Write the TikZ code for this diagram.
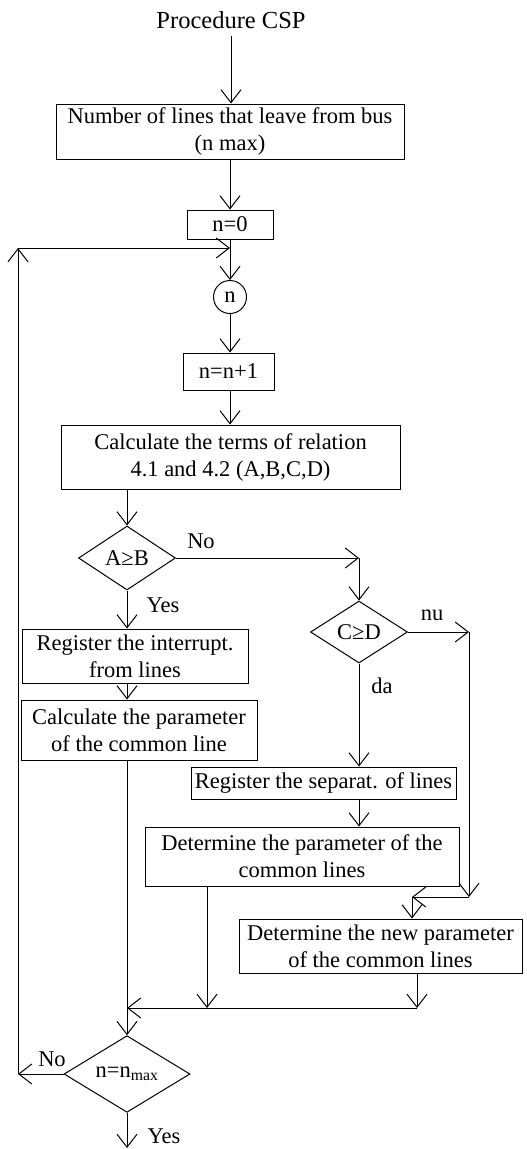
\documentclass[tikz,border=0pt]{standalone}
\usepackage{fontspec}
\setmainfont{Liberation Serif}
\usetikzlibrary{arrows.meta,shapes.geometric}
\begin{document}
\begin{tikzpicture}[x=1pt,y=-1pt,
  every node/.style={font=\fontsize{22.5}{27}\selectfont},
  proc/.style={draw, line width=1pt, inner sep=0pt, align=center},
  dec/.style={draw, diamond, line width=1pt, inner sep=0pt},
  arr/.style={line width=1pt, -{Straight Barb[length=13pt,width=20pt]}},
  lbl/.style={anchor=base, inner sep=0pt}]
\useasboundingbox (0,0) rectangle (527,1149);

% process boxes and decisions
\node[lbl, font=\fontsize{24.5}{29}\selectfont] (title) at (231,28) {Procedure CSP};
\node[proc, minimum width=348pt, minimum height=55pt] (nlines) at (230,131.5) {Number of lines that leave from bus\\(n max)};
\node[proc, minimum width=86pt, minimum height=29pt] (init) at (230,224.5) {n=0};
\node[draw, circle, line width=1pt, inner sep=0pt, minimum size=33pt] (conn) at (230,297) {n};
\node[proc, minimum width=91pt, minimum height=37pt] (incr) at (228.5,371.5) {n=n+1};
\node[proc, minimum width=339pt, minimum height=64pt] (terms) at (230.5,457) {Calculate the terms of relation\\4.1 and 4.2 (A,B,C,D)};
\node[dec, minimum width=97pt, minimum height=64pt] (ab) at (127,558) {A≥B};
\node[proc, minimum width=226pt, minimum height=54pt] (regint) at (135,656) {Register the interrupt.\\from lines};
\node[proc, minimum width=236pt, minimum height=60pt] (calcpar) at (139,730) {Calculate the parameter\\of the common line};
\node[dec, minimum width=97pt, minimum height=62pt] (cd) at (359,632) {C≥D};
\node[proc, minimum width=265pt, minimum height=32pt] (regsep) at (323.5,783) {Register the separat. of lines};
\node[proc, minimum width=314pt, minimum height=59pt] (detpar) at (302,856.5) {Determine the parameter of the\\common lines};
\node[proc, minimum width=283pt, minimum height=54pt] (detnew) at (380.5,946) {Determine the new parameter\\of the common lines};
\node[dec, minimum width=126pt, minimum height=64pt] (last) at (127,1074) {n=n\textsubscript{max}};

% branch labels
\node[lbl] (lno) at (201,548) {No};
\node[lbl] (lyes) at (163,612) {Yes};
\node[lbl] (lnu) at (432,620) {nu};
\node[lbl] (lda) at (382,693) {da};
\node[lbl] (lno2) at (52,1066) {No};
\node[lbl] (lyes2) at (164,1143) {Yes};

% bend points of the connectors
\coordinate (loopB) at (18,1074);
\coordinate (loopT) at (18,248);
\coordinate (loopJ) at (230,248);
\coordinate (abR) at (359,558);
\coordinate (cdR) at (469,632);
\coordinate (cdD) at (469,897);
\coordinate (cdL) at (412,897);
\coordinate (m3) at (417,1008);
\coordinate (m2) at (207,1008);
\coordinate (m1) at (127,1008);
\coordinate (fin) at (127,1148);

% main flow
\draw[arr] ([yshift=-8pt]title.south) -- (title.south |- nlines.north);
\draw[arr] (nlines.south) -- (init.north);
\draw[arr] (init.south) -- (conn.north);
\draw[arr] (conn.south) -- (conn.south |- incr.north);
\draw[arr] (conn.south |- incr.south) -- (conn.south |- terms.north);
\draw[arr] (terms.south -| ab.north) -- (ab.north);

% A>=B branches
\draw[arr] (ab.east) -- (abR);
\draw[arr] (abR) -- (cd.north);
\draw[arr] (ab.south) -- (ab.south |- regint.north);
\draw[arr] (ab.south |- regint.south) -- (ab.south |- calcpar.north);
\draw[arr] (ab.south |- calcpar.south) -- (last.north);

% C>=D branches
\draw[arr] (cd.south) -- (cd.south |- regsep.north);
\draw[arr] (cd.south |- regsep.south) -- (cd.south |- detpar.north);
\draw[arr] (cd.east) -- (cdR);
\draw[arr] (cdR) -- (cdD);
\draw[arr] (cdD) -- (cdL);
\draw[arr] (cdL) -- (cdL |- detnew.north);

% merge into the common line
\draw[arr] (detpar.south -| m2) -- (m2);
\draw[arr] (detnew.south -| m3) -- (m3);
\draw[arr] (m3) -- (m1);

% loop back and exit
\draw[arr] (last.west) -- (loopB);
\draw[arr] (loopB) -- (loopT);
\draw[arr] (loopT) -- (loopJ);
\draw[arr] (last.south) -- (fin);
\end{tikzpicture}
\end{document}
